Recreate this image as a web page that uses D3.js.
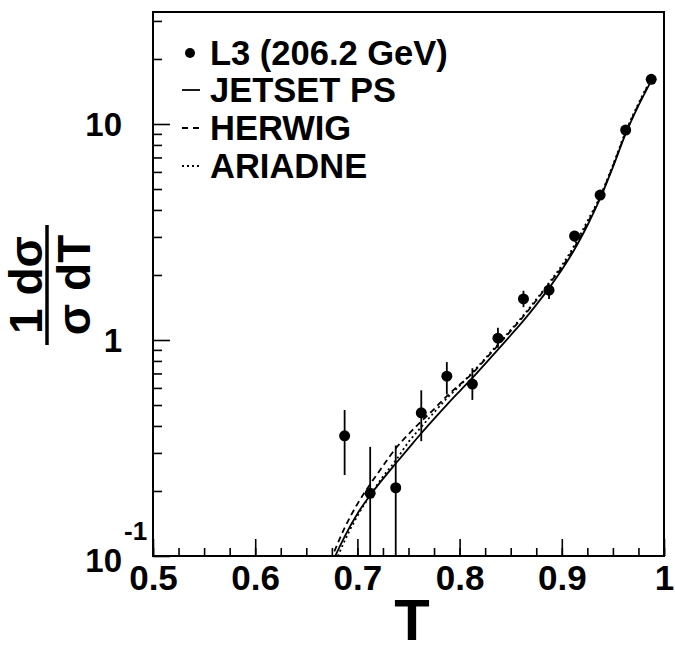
<!DOCTYPE html>
<html>
<head>
<meta charset="utf-8">
<script src="https://cdn.jsdelivr.net/npm/d3@7"></script>
<style>
  body { margin: 0; background: #fff; }
  svg text { font-family: "Liberation Sans", Arial, Helvetica, sans-serif; font-weight: bold; fill: #000; }
</style>
</head>
<body>
<svg id="chart" width="675" height="651"></svg>
<script>
// L3 data, thrust T at 206.2 GeV
var T_DATA = [0.6875, 0.7125, 0.7375, 0.7625, 0.7875, 0.8125, 0.8375, 0.8625, 0.8875, 0.9125, 0.9375, 0.9625, 0.9875];
var L3_VAL = [0.36, 0.195, 0.207, 0.46, 0.68, 0.625, 1.02, 1.55, 1.70, 3.03, 4.69, 9.38, 16.1];
var L3_LO  = [0.237, 0, 0, 0.34, 0.56, 0.528, 0.92, 1.42, 1.55, 2.85, 4.45, 8.95, 15.4];
var L3_HI  = [0.474, 0.32, 0.325, 0.585, 0.79, 0.74, 1.14, 1.69, 1.80, 3.2, 4.95, 9.8, 16.8];

// MC predictions
var T_MC = [0.6625, 0.675, 0.6875, 0.70, 0.7125, 0.725, 0.7375, 0.75, 0.7625, 0.775, 0.7875, 0.80, 0.8125,
            0.825, 0.8375, 0.85, 0.8625, 0.875, 0.8875, 0.90, 0.9125, 0.925, 0.9375, 0.95, 0.9625, 0.975, 0.9875];
var JETSET  = [0.0646, 0.092, 0.123, 0.157, 0.191, 0.2275, 0.268, 0.315, 0.37, 0.4315, 0.501, 0.579, 0.668,
               0.776, 0.902, 1.052, 1.23, 1.455, 1.738, 2.113, 2.63, 3.39, 4.52, 6.31, 9.02, 12.16, 15.85];
var HERWIG  = [0.0708, 0.0986, 0.135, 0.174, 0.215, 0.261, 0.315, 0.366, 0.42, 0.479, 0.55, 0.621, 0.70,
               0.813, 0.944, 1.102, 1.288, 1.524, 1.82, 2.163, 2.69, 3.467, 4.57, 6.38, 9.1, 12.3, 16.0];
var ARIADNE = [0.0575, 0.0849, 0.1175, 0.153, 0.191, 0.233, 0.277, 0.337, 0.396, 0.462, 0.537, 0.614, 0.708,
               0.822, 0.955, 1.114, 1.303, 1.542, 1.841, 2.213, 2.754, 3.548, 4.624, 6.457, 9.226, 12.45, 16.2];

var X_MAJOR = [0.5, 0.6, 0.7, 0.8, 0.9, 1.0];
var X_LABELS = ["0.5", "0.6", "0.7", "0.8", "0.9", "1"];
var Y_MAJOR = [0.1, 1, 10];
var Y_LABELS = ["10", "1", "10"];
var Y_EXP = ["-1", "", ""];
var LEGEND_TEXT = ["L3 (206.2 GeV)", "JETSET PS", "HERWIG", "ARIADNE"];

var svg = d3.select("#chart");
var pL = 153, pR = 664, pT = 12, pB = 556;

var x = d3.scaleLinear().domain([0.5, 1.0]).range([pL, pR]);
var y = d3.scaleLog().domain([0.1, 33]).range([pB, pT]);

svg.append("defs").append("clipPath").attr("id", "plotclip")
  .append("rect").attr("x", pL).attr("y", pT)
  .attr("width", pR - pL).attr("height", pB - pT);

// minor ticks
var xMinor = d3.range(0.5, 1.0001, 0.025);
var yMinor = [];
[0.1, 1, 10].forEach(function(d){
  for (var k = 2; k <= 9; k++) { if (d * k <= 33) yMinor.push(d * k); } });

var gx = svg.append("g").attr("transform", "translate(0," + pB + ")");
gx.call(d3.axisBottom(x).tickValues(xMinor).tickSizeInner(-8).tickSizeOuter(0).tickFormat(""));
var gxMaj = svg.append("g").attr("transform", "translate(0," + pB + ")");
gxMaj.call(d3.axisBottom(x).tickValues(X_MAJOR).tickSizeInner(-17).tickSizeOuter(0)
  .tickPadding(9).tickFormat(function(d, i){ return X_LABELS[i]; }));

var gy = svg.append("g").attr("transform", "translate(" + pL + ",0)");
gy.call(d3.axisLeft(y).tickValues(yMinor).tickSizeInner(-9).tickSizeOuter(0).tickFormat(""));
var gyMaj = svg.append("g").attr("transform", "translate(" + pL + ",0)");
gyMaj.call(d3.axisLeft(y).tickValues(Y_MAJOR).tickSizeInner(-17).tickSizeOuter(0).tickFormat(""));

svg.selectAll(".domain").remove();
svg.selectAll(".tick line").attr("stroke", "#000").attr("stroke-width", 1.6);
gxMaj.selectAll(".tick text").attr("font-size", 35).attr("fill", "#000")
  .style("font-family", "'Liberation Sans', Arial, sans-serif").style("font-weight", "bold");

// y labels
svg.append("g").selectAll("text").data(Y_MAJOR).enter().append("text")
  .attr("text-anchor", "end").attr("font-size", 33)
  .attr("x", 122)
  .attr("y", function(d, i){ return y(d) + (Y_EXP[i] ? 16 : 12); })
  .text(function(d, i){ return Y_LABELS[i]; });
svg.append("g").selectAll("text").data(Y_MAJOR.filter(function(d, i){ return Y_EXP[i]; })).enter()
  .append("text").attr("font-size", 26).attr("x", 124)
  .attr("y", function(d){ return y(d) - 16; })
  .text(function(d){ return Y_EXP[Y_MAJOR.indexOf(d)]; });

// frame
svg.append("rect").attr("x", pL).attr("y", pT).attr("width", pR - pL).attr("height", pB - pT)
  .attr("fill", "none").attr("stroke", "#000").attr("stroke-width", 2);

var plot = svg.append("g").attr("clip-path", "url(#plotclip)");

// MC curves
var line = d3.line().curve(d3.curveMonotoneX)
  .x(function(d){ return x(d[0]); })
  .y(function(d){ return y(Math.max(d[1], 0.01)); });

var curves = [
  { vals: JETSET, dash: null },
  { vals: HERWIG, dash: "6,4" },
  { vals: ARIADNE, dash: "2,3" }
];
plot.selectAll("path.mc").data(curves).enter().append("path").attr("class", "mc")
  .attr("d", function(c){ return line(T_MC.map(function(t, i){ return [t, c.vals[i]]; })); })
  .attr("fill", "none").attr("stroke", "#000").attr("stroke-width", 1.8)
  .attr("stroke-dasharray", function(c){ return c.dash; });

// data points with error bars
var pts = T_DATA.map(function(t, i){ return { t: t, v: L3_VAL[i], lo: L3_LO[i], hi: L3_HI[i] }; });
plot.selectAll("line.err").data(pts).enter().append("line").attr("class", "err")
  .attr("x1", function(d){ return x(d.t); }).attr("x2", function(d){ return x(d.t); })
  .attr("y1", function(d){ return y(Math.max(d.lo, 0.05)); })
  .attr("y2", function(d){ return y(d.hi); })
  .attr("stroke", "#000").attr("stroke-width", 1.8);
plot.selectAll("circle.pt").data(pts).enter().append("circle").attr("class", "pt")
  .attr("cx", function(d){ return x(d.t); }).attr("cy", function(d){ return y(d.v); })
  .attr("r", 5.5).attr("fill", "#000");

// legend
var leg = svg.append("g");
var baseY = [65, 102, 140, 178];
leg.selectAll("text").data(LEGEND_TEXT).enter().append("text")
  .attr("x", 210).attr("y", function(d, i){ return baseY[i]; })
  .attr("font-size", 34.5).text(function(d){ return d; });
leg.append("circle").attr("cx", 190).attr("cy", baseY[0] - 12).attr("r", 5).attr("fill", "#000");
var legDash = [null, "6,5", "2,3"];
leg.selectAll("line").data(legDash).enter().append("line")
  .attr("x1", 182).attr("x2", 200)
  .attr("y1", function(d, i){ return baseY[i + 1] - 12; })
  .attr("y2", function(d, i){ return baseY[i + 1] - 12; })
  .attr("stroke", "#000").attr("stroke-width", 1.8)
  .attr("stroke-dasharray", function(d){ return d; });

// axis titles
svg.append("text").attr("x", 412).attr("y", 640).attr("text-anchor", "middle")
  .attr("font-size", 58).text("T");

var yt = svg.append("g").attr("transform", "translate(0,285) rotate(-90)");
yt.append("text").attr("x", 0).attr("y", 42).attr("text-anchor", "middle")
  .attr("font-size", 46).text("1 dσ");
yt.append("text").attr("x", 0).attr("y", 90).attr("text-anchor", "middle")
  .attr("font-size", 46).text("σ dT");
yt.append("line").attr("x1", -60).attr("x2", 60).attr("y1", 47).attr("y2", 47)
  .attr("stroke", "#000").attr("stroke-width", 3.5);
</script>
</body>
</html>
